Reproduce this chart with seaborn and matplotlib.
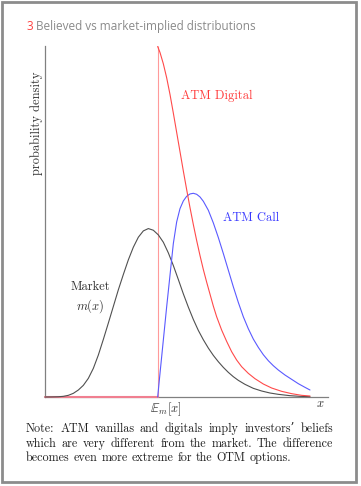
import matplotlib
matplotlib.use("Agg")
import matplotlib.pyplot as plt
import seaborn as sns
from matplotlib.patches import Rectangle

# ---------------- data (arbitrary units) ----------------
strike = 338  # E_m[x], the ATM strike

market_x = [0, 20, 40, 55, 70, 85, 100, 115, 130, 145, 160, 175, 190, 205, 220,
            235, 250, 265, 280, 295, 310, 325, 340, 355, 370, 385, 400, 415,
            430, 445, 460, 475, 490, 505, 520, 535, 550, 565, 580, 600, 625,
            650, 675, 700, 735, 765, 795]
market_y = [0, 0.2, 0.7, 2, 5, 11, 21, 35, 56, 86, 126, 173, 222, 272, 322,
            368, 412, 450, 480, 499, 506, 501, 487, 465, 433, 395, 353, 310,
            270, 233, 200, 172, 147, 125, 106, 89, 74, 61, 50, 38, 26,
            18, 12, 8, 4, 2, 1]

call_x = [338, 345, 355, 365, 375, 385, 395, 405, 415, 425, 435, 445, 455,
          465, 475, 490, 505, 520, 535, 550, 565, 580, 595, 610, 625, 640,
          655, 670, 685, 700, 720, 740, 760, 780, 795]
call_y = [0, 71, 171, 271, 366, 461, 526, 566, 589, 603, 610, 612, 609,
          601, 588, 561, 523, 479, 431, 381, 331, 284, 241, 205, 174, 149,
          127, 109, 94, 81, 66, 53, 40, 29, 21]

digital_x = [338, 345, 355, 365, 375, 385, 395, 405, 415, 425, 435, 445, 455,
             465, 475, 485, 495, 505, 515, 530, 545, 560, 575, 590, 610, 630,
             655, 680, 710, 740, 770, 795]
digital_y = [1053, 1035, 1001, 959, 909, 853, 795, 737, 679, 623, 569, 518,
             470, 425, 383, 345, 309, 273, 241, 201, 167, 136, 111, 91, 71,
             55, 39, 27, 17, 10, 5, 3]

x_max = 849
y_max = 1053

title_num = "3"
title_text = "Believed vs market-implied distributions"
note_lines = [
    "Note:  ATM vanillas and digitals imply investors\u2019 beliefs",
    "which are very different from the market.  The difference",
    "becomes even more extreme for the OTM options.",
]

# ---------------- styling ----------------
sns.set_theme(style="white")
plt.rcParams['mathtext.fontset'] = 'cm'
plt.rcParams['font.family'] = ['DejaVu Sans']
SERIF = ['cmr10', 'DejaVu Serif']

RED = "#ff4a4a"
BLUE = "#5a5aff"
DARK = "#505050"

W, H = 361, 486
fig = plt.figure(figsize=(W / 100, H / 100), dpi=100)
fig.patch.set_facecolor("white")

ax = fig.add_axes([45 / W, 1 - 397 / H, 283 / W, 350.5 / H])
ax.set_facecolor("white")

# zero part of the digital density and the jump at the strike
sns.lineplot(x=[0, strike], y=[0, 0], ax=ax, color="#f07f90", lw=1.5,
             sort=False, estimator=None, clip_on=False, zorder=3)
ax.vlines(strike, 0, y_max, color="#ff9a9a", lw=0.8, zorder=2, clip_on=False)

sns.lineplot(x=market_x, y=market_y, ax=ax, color=DARK, lw=0.8,
             sort=False, estimator=None, clip_on=False, zorder=4)
sns.lineplot(x=call_x, y=call_y, ax=ax, color=BLUE, lw=0.8,
             sort=False, estimator=None, clip_on=False, zorder=4)
sns.lineplot(x=digital_x, y=digital_y, ax=ax, color=RED, lw=0.8,
             sort=False, estimator=None, clip_on=False, zorder=4)

ax.set_xlim(0, x_max)
ax.set_ylim(0, y_max)
ax.set_xticks([])
ax.set_yticks([])
ax.set_xlabel("")
ax.set_ylabel("")
for s in ["top", "right"]:
    ax.spines[s].set_visible(False)
for s in ["left", "bottom"]:
    ax.spines[s].set_color("#808080")
    ax.spines[s].set_linewidth(0.9)

# curve labels
ax.text(516, 904, "ATM Digital", color="#ff3a3a", fontsize=9,
        family=SERIF, ha="center", va="center")
ax.text(619, 539, "ATM Call", color="#3a3aff", fontsize=9,
        family=SERIF, ha="center", va="center")
ax.text(135, 331, "Market", color="#303030", fontsize=9,
        family=SERIF, ha="center", va="center")
ax.text(135, 274, r"$m(x)$", color="#303030", fontsize=9,
        ha="center", va="center")
ax.text(strike + 24, -36, r"$\mathbb{E}_m[x]$", color="#303030", fontsize=9,
        ha="center", va="center", clip_on=False)
ax.text(825, -21, r"$x$", color="#303030", fontsize=9,
        ha="center", va="center", clip_on=False)

# y label
fig.text(37 / W, 1 - 123 / H, "probability density", rotation=90,
         family=SERIF, fontsize=9, color="#303030", ha="center", va="center")

# title
fig.text(26 / W, 1 - 26.5 / H, title_num, color="#ff4040", fontsize=8.5,
         family=["Open Sans", "DejaVu Sans"], ha="left", va="center")
fig.text(36 / W, 1 - 26.5 / H, title_text, color="#8a8a8a", fontsize=8.5,
         family=["Open Sans", "DejaVu Sans"], ha="left", va="center")

# note, justified
renderer = fig.canvas.get_renderer()


def put_line(text, y_px, x0, x1=None, size=8.7):
    words = text.split()
    ts = [fig.text(0, 1 - y_px / H, w, family=SERIF, fontsize=size,
                   color="#202020", ha="left", va="center") for w in words]
    widths = [t.get_window_extent(renderer).width for t in ts]
    if x1 is None:
        sp = fig.text(0, 0, "a a", family=SERIF, fontsize=size)
        sa = fig.text(0, 0, "aa", family=SERIF, fontsize=size)
        gap = sp.get_window_extent(renderer).width - sa.get_window_extent(renderer).width
        sp.remove()
        sa.remove()
    else:
        gap = (x1 - x0 - sum(widths)) / (len(words) - 1)
    x = x0
    for t, w in zip(ts, widths):
        t.set_x(x / W)
        x += w + gap


put_line(note_lines[0], 429, 26, 333)
put_line(note_lines[1], 443.5, 26, 333)
put_line(note_lines[2], 458, 26, None)

# frame
fig.patches.append(Rectangle((1.8 / W, 1 - 481.5 / H), 354.5 / W, 479.5 / H,
                             transform=fig.transFigure, fill=False,
                             edgecolor="#8c8c8c", lw=2.0))

fig.savefig("out.png", dpi=100)
